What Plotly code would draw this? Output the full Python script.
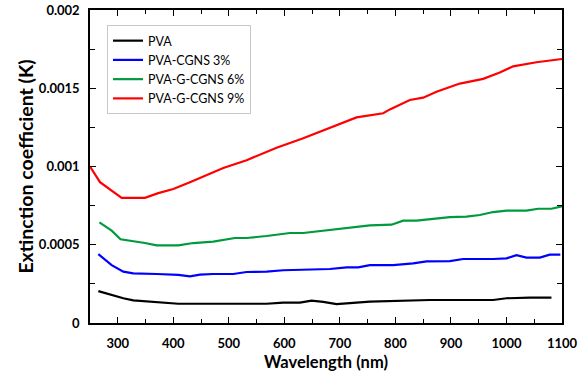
import plotly.graph_objects as go

# Wavelength (nm) / extinction coefficient readings per series
pva_x = [265, 289, 310, 328, 370, 409, 568, 598, 628, 649, 670, 694, 754, 862, 976, 1000, 1042, 1081]
pva_y = [0.000204, 0.000179, 0.000158, 0.000145, 0.000136, 0.000123, 0.000123, 0.000130, 0.000130,
         0.000143, 0.000135, 0.000121, 0.000136, 0.000147, 0.000147, 0.000158, 0.000162, 0.000162]

cgns3_x = [265, 289, 310, 328, 370, 409, 430, 448, 472, 508, 532, 568, 598, 640, 682, 712, 733, 754,
           796, 832, 856, 898, 922, 976, 1000, 1018, 1036, 1060, 1078, 1097]
cgns3_y = [0.000440, 0.000370, 0.000328, 0.000317, 0.000313, 0.000307, 0.000298, 0.000309, 0.000313,
           0.000313, 0.000326, 0.000328, 0.000337, 0.000339, 0.000345, 0.000356, 0.000356, 0.000370,
           0.000370, 0.000381, 0.000394, 0.000396, 0.000409, 0.000409, 0.000413, 0.000433, 0.000418,
           0.000418, 0.000437, 0.000437]

gcgns6_x = [267, 289, 305, 328, 349, 370, 409, 436, 472, 511, 532, 568, 610, 634, 670, 697, 718, 754,
            793, 814, 838, 862, 898, 928, 952, 976, 1000, 1036, 1057, 1081, 1100]
gcgns6_y = [0.000643, 0.000590, 0.000535, 0.000524, 0.000511, 0.000496, 0.000496, 0.000511, 0.000520,
            0.000543, 0.000543, 0.000556, 0.000575, 0.000575, 0.000590, 0.000605, 0.000611, 0.000624,
            0.000628, 0.000654, 0.000654, 0.000663, 0.000677, 0.000680, 0.000690, 0.000709, 0.000718,
            0.000718, 0.000730, 0.000730, 0.000745]

gcgns9_x = [250, 268, 307, 349, 373, 400, 430, 453, 490, 532, 586, 634, 706, 730, 778, 790, 826, 850,
            874, 916, 958, 988, 1012, 1054, 1100]
gcgns9_y = [0.001000, 0.000900, 0.000800, 0.000800, 0.000830, 0.000856, 0.000900, 0.000935, 0.000990,
            0.001040, 0.001120, 0.001180, 0.001280, 0.001314, 0.001340, 0.001365, 0.001425, 0.001440,
            0.001478, 0.001530, 0.001560, 0.001600, 0.001640, 0.001666, 0.001687]

names = ["PVA", "PVA-CGNS 3%", "PVA-G-CGNS 6%", "PVA-G-CGNS 9%"]
colors = ["#000000", "#0000ff", "#009a3e", "#ff0000"]

y_tickvals = [0, 0.0005, 0.001, 0.0015, 0.002]
y_ticktext = ["0", "0.0005", "0.001", "0.0015", "0.002"]
x_tickvals = [300, 400, 500, 600, 700, 800, 900, 1000, 1100]

fig = go.Figure()
for xs, ys, n, c in zip([pva_x, cgns3_x, gcgns6_x, gcgns9_x],
                        [pva_y, cgns3_y, gcgns6_y, gcgns9_y], names, colors):
    fig.add_trace(go.Scatter(x=xs, y=ys, mode="lines", name=n,
                             line=dict(color=c, width=2.2)))

axis_common = dict(showline=True, linecolor="black", linewidth=1.5, mirror="ticks",
                   ticks="inside", ticklen=6, tickwidth=1.3, tickcolor="black",
                   showgrid=False, zeroline=False, automargin=False,
                   tickfont=dict(family="Lato", size=13, color="black", weight="bold"))

fig.update_xaxes(range=[250, 1100], tickvals=x_tickvals, ticklabelstandoff=8,
                 minor=dict(ticks="inside", ticklen=4, dtick=50, tickcolor="black", tickwidth=1.2, showgrid=False),
                 title=dict(text="<b>Wavelength (nm)</b>", font=dict(family="Lato", size=16.5, color="black"),
                            standoff=6),
                 **axis_common)
fig.update_yaxes(range=[0, 0.002], tickvals=y_tickvals, ticktext=y_ticktext, ticklabelstandoff=6,
                 minor=dict(ticks="inside", ticklen=5, dtick=0.00025, tickcolor="black", tickwidth=1.2, showgrid=False),
                 title=dict(text="<b>Extinction coefficient (K)</b>", font=dict(family="Lato", size=19.5, color="black"),
                            standoff=0),
                 **axis_common)

fig.update_layout(
    width=586, height=376,
    margin=dict(l=90, r=24, t=10, b=53),
    plot_bgcolor="white", paper_bgcolor="white",
    showlegend=True,
    legend=dict(x=0.036, y=0.952, xanchor="left", yanchor="top",
                bordercolor="#c8c8c8", borderwidth=1, bgcolor="white",
                font=dict(family="Lato", size=12.5, color="black"),
                tracegroupgap=0, itemwidth=30),
)

fig.write_html("out.html")
